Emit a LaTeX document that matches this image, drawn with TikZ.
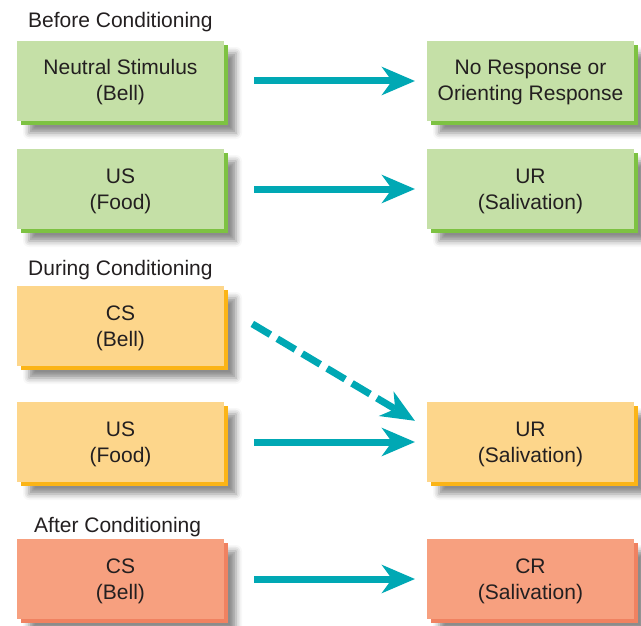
\documentclass[tikz,border=0pt]{standalone}
\usepackage{fontspec}
\setmainfont{Liberation Sans}
\usetikzlibrary{arrows.meta,positioning,shadows,shadows.blur}
\definecolor{txtgray}{HTML}{231F20}
\definecolor{beforefill}{HTML}{C5E0A7}
\definecolor{beforeedge}{HTML}{7DC242}
\definecolor{duringfill}{HTML}{FDD68B}
\definecolor{duringedge}{HTML}{FBB416}
\definecolor{afterfill}{HTML}{F7A07F}
\definecolor{afteredge}{HTML}{F08261}
\definecolor{arrteal}{HTML}{00A8B4}
\tikzset{
  stagebox/.style={draw=none, align=center, minimum width=207pt, minimum height=80pt,
    inner sep=0pt, outer sep=0pt, text=txtgray, font=\fontsize{21}{26}\selectfont,
    text height=44pt, text depth=4pt,
    blur shadow={shadow xshift=12pt, shadow yshift=-12pt, shadow blur radius=6pt, shadow opacity=45}},
  beforebox/.style={stagebox, fill=beforefill, general shadow={fill=beforeedge, shadow xshift=4pt, shadow yshift=-4pt}},
  duringbox/.style={stagebox, fill=duringfill, general shadow={fill=duringedge, shadow xshift=4pt, shadow yshift=-4pt}},
  afterbox/.style={stagebox, fill=afterfill, general shadow={fill=afteredge, shadow xshift=4pt, shadow yshift=-4pt}},
  heading/.style={anchor=base west, inner sep=0pt, text=txtgray, font=\fontsize{21}{26}\selectfont},
  arr/.style={-{Stealth[length=33pt, width=28pt, inset=10pt]}, line width=7pt, draw=arrteal,
    shorten <=30pt, shorten >=12pt},
  darr/.style={arr, dash pattern=on 21pt off 8pt}
}
\begin{document}
\begin{tikzpicture}[x=1pt, y=-1pt]
  \useasboundingbox (0,0) rectangle (641,626);

  % before conditioning
  \node[heading] (hbefore) at (28,28) {Before Conditioning};
  \node[beforebox] (ns) at (120.5,81) {Neutral Stimulus\\(Bell)};
  \node[beforebox, right=203pt of ns] (nr) {No Response or\\Orienting Response};
  \node[beforebox, below=28pt of ns] (us1) {US\\(Food)};
  \node[beforebox, right=203pt of us1] (ur1) {UR\\(Salivation)};
  \draw[arr] (ns) -- (nr);
  \draw[arr] (us1) -- (ur1);

  % during conditioning
  \node[heading] (hduring) at (28,275) {During Conditioning};
  \node[duringbox, below=57pt of us1] (cs1) {CS\\(Bell)};
  \node[duringbox, below=36pt of cs1] (us2) {US\\(Food)};
  \node[duringbox, right=203pt of us2] (ur2) {UR\\(Salivation)};
  \draw[darr, shorten <=33pt, shorten >=14pt] ([yshift=19pt]cs1.east) -- ([yshift=14pt]ur2.west);
  \draw[arr] (us2) -- (ur2);

  % after conditioning
  \node[heading] (hafter) at (34,532) {After Conditioning};
  \node[afterbox, below=57pt of us2] (cs2) {CS\\(Bell)};
  \node[afterbox, right=203pt of cs2] (cr) {CR\\(Salivation)};
  \draw[arr] (cs2) -- (cr);
\end{tikzpicture}
\end{document}
